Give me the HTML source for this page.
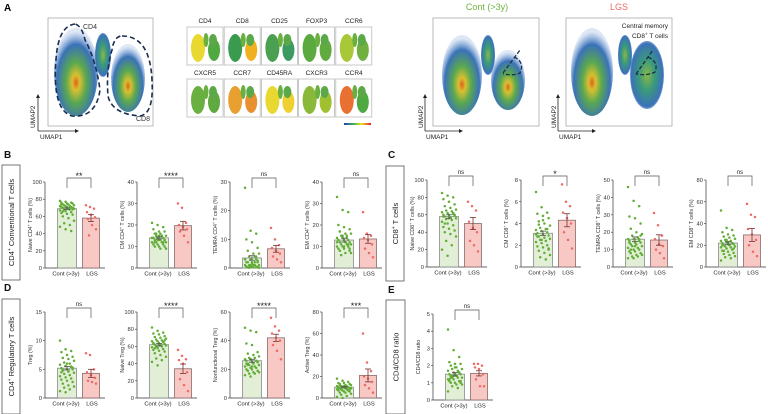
<!DOCTYPE html>
<html><head><meta charset="utf-8"><style>
html,body{margin:0;padding:0;background:#fff;}
svg{display:block;font-family:"Liberation Sans",Arial,sans-serif;}
</style></head><body>
<svg id="fig" width="768" height="414" viewBox="0 0 768 414" xmlns="http://www.w3.org/2000/svg">
<defs>
<radialGradient id="dens" cx="50%" cy="62%" r="58%">
<stop offset="0" stop-color="#e0601c"/><stop offset="0.15" stop-color="#d8c030"/><stop offset="0.4" stop-color="#5aa850"/><stop offset="0.75" stop-color="#3a72b8"/><stop offset="1" stop-color="#7aa0d8" stop-opacity="0.25"/>
</radialGradient>
<radialGradient id="dens2" cx="50%" cy="50%" r="58%">
<stop offset="0" stop-color="#8ab848"/><stop offset="0.4" stop-color="#3a9a7a"/><stop offset="0.8" stop-color="#3a72b8"/><stop offset="1" stop-color="#7aa0d8" stop-opacity="0.2"/>
</radialGradient>
<linearGradient id="cbar" x1="0" x2="1"><stop offset="0" stop-color="#2040c0"/><stop offset="0.35" stop-color="#40b050"/><stop offset="0.65" stop-color="#f0e020"/><stop offset="1" stop-color="#e02020"/></linearGradient>
</defs>
<g id="panelA">
<text x="4" y="11" font-size="10" font-weight="bold">A</text>
<rect x="48" y="18" width="105" height="108" fill="none" stroke="#aaa" stroke-width="0.8"/>
<g>
<ellipse cx="76" cy="72" rx="22" ry="44" fill="url(#dens)"/>
<ellipse cx="103" cy="55" rx="8" ry="22" fill="url(#dens2)"/>
<ellipse cx="128" cy="78" rx="17" ry="34" fill="url(#dens)"/>
</g>
<path d="M75 24 Q58 26 56 60 Q52 110 72 116 Q96 118 100 90 Q96 60 85 40 Q82 26 75 24Z" fill="none" stroke="#1c2e50" stroke-width="1.6" stroke-dasharray="5,3"/>
<path d="M122 36 Q150 36 152 80 Q154 114 140 116 Q112 114 108 96 Q106 70 112 50 Q114 36 122 36Z" fill="none" stroke="#1c2e50" stroke-width="1.6" stroke-dasharray="5,3"/>
<text x="83" y="29" font-size="7" fill="#333">CD4</text>
<text x="136" y="121" font-size="7" fill="#333">CD8</text>
<g stroke="#222" stroke-width="0.8"><line x1="38" y1="131" x2="38" y2="97"/><line x1="38" y1="131" x2="76" y2="131"/></g>
<path d="M38 94 l-2 4 h4z M79 131 l-4 -2 v4z" fill="#222"/>
<text x="40" y="139" font-size="6.5" fill="#222">UMAP1</text>
<text transform="translate(35,128) rotate(-90)" font-size="6.5" fill="#222">UMAP2</text>
<g id="mini"></g>
<rect x="344" y="123" width="27" height="2" fill="url(#cbar)"/>
<text x="487" y="10" font-size="9" fill="#6cb33f" text-anchor="middle">Cont (&gt;3y)</text>
<text x="619" y="10" font-size="9" fill="#ec6b64" text-anchor="middle">LGS</text>
<rect x="433" y="18" width="106" height="108" fill="none" stroke="#aaa" stroke-width="0.8"/>
<g>
<ellipse cx="462" cy="75" rx="20" ry="40" fill="url(#dens)"/>
<ellipse cx="488" cy="55" rx="7" ry="20" fill="url(#dens2)"/><ellipse cx="508" cy="80" rx="17" ry="30" fill="url(#dens)"/>
</g>
<path d="M503 73 L520 50 M514 57 Q525 62 520 73 Q514 76 503 74" fill="none" stroke="#1c2e50" stroke-width="1.3" stroke-dasharray="4,2"/>
<rect x="566" y="18" width="106" height="108" fill="none" stroke="#aaa" stroke-width="0.8"/>
<g>
<ellipse cx="592" cy="72" rx="21" ry="44" fill="url(#dens)"/><ellipse cx="625" cy="55" rx="7" ry="20" fill="url(#dens2)"/>
<ellipse cx="647" cy="75" rx="17" ry="34" fill="url(#dens2)"/>
</g>
<path d="M636 74 L653 50 M648 57 Q659 62 655 72 Q648 76 636 74" fill="none" stroke="#1c2e50" stroke-width="1.3" stroke-dasharray="4,2"/>
<text x="668" y="28" font-size="6.5" text-anchor="end" fill="#222">Central memory</text>
<text x="668" y="38" font-size="6.5" text-anchor="end" fill="#222">CD8<tspan font-size="4.5" dy="-2.5">+</tspan><tspan dy="2.5"> T cells</tspan></text>
<g stroke="#222" stroke-width="0.8"><line x1="425" y1="131" x2="425" y2="97"/><line x1="425" y1="131" x2="460" y2="131"/><line x1="558" y1="131" x2="558" y2="97"/><line x1="558" y1="131" x2="593" y2="131"/></g>
<path d="M425 94 l-2 4 h4z M463 131 l-4 -2 v4z M558 94 l-2 4 h4z M596 131 l-4 -2 v4z" fill="#222"/>
<text x="426" y="139" font-size="6.5" fill="#222">UMAP1</text><text transform="translate(423,128) rotate(-90)" font-size="6.5" fill="#222">UMAP2</text>
<text x="559" y="139" font-size="6.5" fill="#222">UMAP1</text><text transform="translate(556,128) rotate(-90)" font-size="6.5" fill="#222">UMAP2</text>
</g>
<g id="charts"></g>
</svg>
<script>
const NS="http://www.w3.org/2000/svg";
const markers=["CD4","CD8","CD25","FOXP3","CCR6","CXCR5","CCR7","CD45RA","CXCR3","CCR4"];
const markerLeft=["#e8d830","#3a9a50","#4aa050","#5aaa40","#a8c838","#6ab040","#e8a030","#e8d830","#8ab838","#e87030"];
const markerRight=["#50a840","#f0b020","#3a9a60","#60aa40","#70b040","#60a840","#e89030","#f0d030","#a0c030","#50a840"];

const b1Cont=[78,77,76,76,75,75,74,74,73,73,72,72,72,71,71,70,70,70,69,69,68,68,67,66,65,64,63,62,60,58,55,52,50,48,45,43,74,71,68,66];
const b1Lgs=[73,71,69,65,62,59,57,50,45,38];
const b1Bar=[69,58];const b1Sem=[1,4];const b1Ticks=[0,20,40,60,80,100];
const b2Cont=[21,20,19,18,17,17,16,16,15,15,15,14,14,14,14,13,13,13,13,12,12,12,12,11,11,11,10,10,10,9,9,16,15,14,13,12,14,15,13,12];
const b2Lgs=[30,28,21,20,19,18,17,15,12];
const b2Bar=[14,19.7];const b2Sem=[0.5,2];const b2Ticks=[0,10,20,30,40];
const b3Cont=[28,13,12,10,9,7,6,5,5,4,4,3,3,3,2,2,2,2,1,1,1,1,1,0.5,0.5,0.5,0.3,0.3,0.2,0.2,0.1,0.1,2,3,1,4,0.5,1.5,2.5,0.3];
const b3Lgs=[14,10,8,7,6,5,4,3,2];
const b3Bar=[3.5,6.7];const b3Sem=[0.8,1.2];const b3Ticks=[0,10,20,30];
const b4Cont=[33,27,26,20,19,18,17,16,16,15,15,14,14,13,13,13,12,12,12,11,11,11,10,10,10,9,9,8,8,7,7,6,14,12,15,11,13,10,9,17];
const b4Lgs=[26,16,15,14,13,11,9,7,5];
const b4Bar=[13,13.5];const b4Sem=[0.9,2];const b4Ticks=[0,10,20,30,40];

const c1Cont=[85,82,80,78,75,72,70,68,66,65,64,63,62,61,60,60,59,58,57,56,55,54,52,50,48,46,44,42,40,38,35,30,25,20,13,62,58,56,60,50];
const c1Lgs=[75,70,65,52,45,40,30,25,18];
const c1Bar=[58,50];const c1Sem=[2,7];const c1Ticks=[0,20,40,60,80,100];
const c2Cont=[6.9,5.5,5.0,4.9,4.7,4.5,4.2,4.0,3.8,3.6,3.5,3.4,3.3,3.2,3.1,3.0,2.9,2.8,2.7,2.6,2.5,2.4,2.3,2.2,2.0,1.9,1.8,1.7,1.5,1.3,1.1,0.9,0.7,3.0,2.5,3.5,2.8,4.3,1.6,3.9];
const c2Lgs=[7.6,6.0,5.6,5.0,4.5,4.0,3.2,2.5,1.7];
const c2Bar=[3.1,4.3];const c2Sem=[0.2,0.6];const c2Ticks=[0,2,4,6,8];
const c3Cont=[46,38,35,29,28,25,22,20,19,18,17,16,16,15,15,14,14,13,13,12,12,11,11,10,10,9,9,8,8,7,7,6,6,5,5,16,14,12,18,10];
const c3Lgs=[31,24,18,16,13,12,10,8,5];
const c3Bar=[16,15.5];const c3Sem=[1.3,3];const c3Ticks=[0,10,20,30,40,50];
const c4Cont=[52,36,34,32,30,29,28,27,26,25,24,24,23,22,22,21,21,20,20,19,19,18,18,17,16,15,14,13,12,11,10,9,8,6,25,22,20,23,17,15];
const c4Lgs=[58,48,46,35,30,25,20,14,10];
const c4Bar=[22,29.5];const c4Sem=[1.2,6];const c4Ticks=[0,20,40,60,80];

const d1Cont=[10,8.5,8.2,8,7.5,7.2,7,6.8,6.5,6.2,6,5.8,5.6,5.4,5.2,5,5,4.8,4.6,4.4,4.2,4,3.8,3.6,3.4,3.2,3,2.8,2.5,2.2,2,1.8,1.5,1.2,1,5.5,4.5,6,5.3,4.9];
const d1Lgs=[7.8,7.5,5,4.5,4,3.5,3,2.8,2.5];
const d1Bar=[5.2,4.3];const d1Sem=[0.3,0.7];const d1Ticks=[0,5,10,15];
const d2Cont=[82,78,76,75,74,72,71,70,69,68,67,66,66,65,64,64,63,62,62,61,60,60,59,58,57,56,55,54,52,50,48,46,44,42,38,65,63,61,67,58];
const d2Lgs=[56,49,45,44,40,30,22,15,8];
const d2Bar=[62,34];const d2Sem=[1.5,5.5];const d2Ticks=[0,20,40,60,80,100];
const d3Cont=[49,47,46,38,37,32,31,30,29,28,28,27,27,26,26,25,25,24,24,23,23,22,22,21,21,20,20,19,19,18,18,17,17,16,15,26,24,22,25,23];
const d3Lgs=[56,50,47,45,42,40,37,33,27];
const d3Bar=[26,42];const d3Sem=[1,2.5];const d3Ticks=[0,20,40,60];
const d4Cont=[18,16,15,14,14,13,13,12,12,11,11,11,10,10,10,10,9,9,9,9,8,8,8,7,7,7,6,6,5,5,4,3,2,1,0,10,9,11,8,12];
const d4Lgs=[60,33,25,20,18,15,12,9,5];
const d4Bar=[10,21];const d4Sem=[0.6,6];const d4Ticks=[0,20,40,60,80];

const eCont=[4.1,2.9,2.5,2.2,2.1,2.1,2.0,1.9,1.8,1.8,1.7,1.7,1.6,1.6,1.5,1.5,1.5,1.4,1.4,1.3,1.3,1.3,1.2,1.2,1.1,1.1,1.0,1.0,1.0,0.9,0.9,0.8,0.7,0.5,1.4,1.6,1.2,1.9,1.1,1.3];
const eLgs=[2.1,2.1,2.0,1.9,1.8,1.5,1.2,0.8,0.8];
const eBar=[1.5,1.55];const eSem=[0.1,0.15];const eTicks=[0,1,2,3,4,5];

const groupLabels=["Cont (>3y)","LGS"];

const svg=document.getElementById('charts');
function el(tag,attrs,parent,text){const e=document.createElementNS(NS,tag);for(const k in attrs)e.setAttribute(k,attrs[k]);if(text!==undefined)e.textContent=text;(parent||svg).appendChild(e);return e;}

const mini=document.getElementById('mini');
markers.forEach((m,i)=>{
  const x=187+(i%5)*37.2, y=i<5?27:79;
  const g=el('g',{},mini);
  
  
  el('text',{x:x+18,y:y-4,'font-size':6.5,'text-anchor':'middle',fill:'#222'},g,m);
  el('rect',{x:x,y:y,width:36,height:38,fill:'none',stroke:'#bbb','stroke-width':0.8},g);
  el('ellipse',{cx:x+11,cy:y+21,rx:7,ry:14,fill:markerLeft[i]},g);
  el('ellipse',{cx:x+19,cy:y+13,rx:2.5,ry:7,fill:'#6ab040'},g);
  el('ellipse',{cx:x+27,cy:y+23,rx:6,ry:11,fill:markerRight[i]},g);
  el('ellipse',{cx:x+26,cy:y+13,rx:4,ry:6,fill:'#5aa848'},g);
});

function chart(o){
  const g=el('g',{});
  
  
  const max=o.ticks[o.ticks.length-1];
  const ys=v=>o.zero-(v/max)*(o.zero-o.top);
  const ax=o.ax;
  el('line',{x1:ax,y1:o.top,x2:ax,y2:o.zero,stroke:'#333','stroke-width':0.7},g);
  el('line',{x1:ax,y1:o.zero,x2:ax+60,y2:o.zero,stroke:'#333','stroke-width':0.7},g);
  o.ticks.forEach(t=>{
    el('line',{x1:ax-2,y1:ys(t),x2:ax,y2:ys(t),stroke:'#333','stroke-width':0.6},g);
    const tl=el('text',{x:ax-3,y:ys(t)+2,'font-size':5.8,'text-anchor':'end',fill:'#333'},g,String(t));
    
    
  });
  const yt=el('text',{transform:`translate(${ax-13},${(o.top+o.zero)/2}) rotate(-90)`,'font-size':5.3,'text-anchor':'middle',fill:'#333'},g);
  yt.innerHTML=o.ylab;
  
  
  const centers=[ax+22,ax+46], widths=[19,17];
  const fills=['#e2efd6','#f8c8c4'], strokes=['#8a8a8a','#8a6a6a'], dots=['#62ad36','#ec6b64'];
  const data=[o.cont,o.lgs];
  [0,1].forEach(k=>{
    const b=el('rect',{x:centers[k]-widths[k]/2,y:ys(o.bar[k]),width:widths[k],height:o.zero-ys(o.bar[k]),fill:fills[k],stroke:strokes[k],'stroke-width':0.8},g);
    
    
    data[k].forEach((v,i)=>{
      const spread=k?5:7;
      const jx=(((i*37)%11)-5)/5*spread;
      const c=el('circle',{cx:centers[k]+jx,cy:ys(v),r:1.25,fill:dots[k]},g);
      
      
    });
    const sc=k?'#7a3030':'#555';
    el('line',{x1:centers[k],y1:ys(o.bar[k]+o.sem[k]),x2:centers[k],y2:ys(o.bar[k]-o.sem[k]),stroke:sc,'stroke-width':0.8},g);
    el('line',{x1:centers[k]-3,y1:ys(o.bar[k]+o.sem[k]),x2:centers[k]+3,y2:ys(o.bar[k]+o.sem[k]),stroke:sc,'stroke-width':0.8},g);
    el('line',{x1:centers[k]-3,y1:ys(o.bar[k]-o.sem[k]),x2:centers[k]+3,y2:ys(o.bar[k]-o.sem[k]),stroke:sc,'stroke-width':0.8},g);
    const xl=el('text',{x:k?centers[k]+1:centers[k]-1,y:o.zero+7.5,'font-size':5.8,'text-anchor':'middle',fill:'#222'},g,groupLabels[k]);
    
    
  });
  const by=o.top-4;
  el('path',{d:`M${centers[0]} ${by+10} V${by} H${centers[1]} V${by+10}`,fill:'none',stroke:'#555','stroke-width':0.7},g);
  const s=el('text',{x:(centers[0]+centers[1])/2,y:o.sig==='ns'?by-2:by+1,'font-size':o.sig==='ns'?6:9,'text-anchor':'middle',fill:'#222'},g,o.sig);
  
  
}
const BT=182,BZ=268,DT=312,DZ=398;
chart({name:'chart-naive-cd4',ax:45,top:BT,zero:BZ,ticks:b1Ticks,cont:b1Cont,lgs:b1Lgs,bar:b1Bar,sem:b1Sem,sig:'**',ylab:'Naive CD4<tspan font-size="3.5" dy="-2">+</tspan><tspan dy="2"> T cells (%)</tspan>'});
chart({name:'chart-cm-cd4',ax:137,top:BT,zero:BZ,ticks:b2Ticks,cont:b2Cont,lgs:b2Lgs,bar:b2Bar,sem:b2Sem,sig:'****',ylab:'CM CD4<tspan font-size="3.5" dy="-2">+</tspan><tspan dy="2"> T cells (%)</tspan>'});
chart({name:'chart-temra-cd4',ax:230,top:BT,zero:BZ,ticks:b3Ticks,cont:b3Cont,lgs:b3Lgs,bar:b3Bar,sem:b3Sem,sig:'ns',ylab:'TEMRA CD4<tspan font-size="3.5" dy="-2">+</tspan><tspan dy="2"> T cells (%)</tspan>'});
chart({name:'chart-em-cd4',ax:322,top:BT,zero:BZ,ticks:b4Ticks,cont:b4Cont,lgs:b4Lgs,bar:b4Bar,sem:b4Sem,sig:'ns',ylab:'EM CD4<tspan font-size="3.5" dy="-2">+</tspan><tspan dy="2"> T cells (%)</tspan>'});
chart({name:'chart-naive-cd8',ax:427,top:BT-2,zero:BZ-1,ticks:c1Ticks,cont:c1Cont,lgs:c1Lgs,bar:c1Bar,sem:c1Sem,sig:'ns',ylab:'Naive CD8<tspan font-size="3.5" dy="-2">+</tspan><tspan dy="2"> T cells (%)</tspan>'});
chart({name:'chart-cm-cd8',ax:521,top:BT-2,zero:BZ-1,ticks:c2Ticks,cont:c2Cont,lgs:c2Lgs,bar:c2Bar,sem:c2Sem,sig:'*',ylab:'CM CD8<tspan font-size="3.5" dy="-2">+</tspan><tspan dy="2"> T cells (%)</tspan>'});
chart({name:'chart-temra-cd8',ax:613,top:BT-2,zero:BZ-1,ticks:c3Ticks,cont:c3Cont,lgs:c3Lgs,bar:c3Bar,sem:c3Sem,sig:'ns',ylab:'TEMRA CD8<tspan font-size="3.5" dy="-2">+</tspan><tspan dy="2"> T cells (%)</tspan>'});
chart({name:'chart-em-cd8',ax:706,top:BT-2,zero:BZ-1,ticks:c4Ticks,cont:c4Cont,lgs:c4Lgs,bar:c4Bar,sem:c4Sem,sig:'ns',ylab:'EM CD8<tspan font-size="3.5" dy="-2">+</tspan><tspan dy="2"> T cells (%)</tspan>'});
chart({name:'chart-treg',ax:45,top:DT,zero:DZ,ticks:d1Ticks,cont:d1Cont,lgs:d1Lgs,bar:d1Bar,sem:d1Sem,sig:'ns',ylab:'Treg (%)'});
chart({name:'chart-naive-treg',ax:137,top:DT,zero:DZ,ticks:d2Ticks,cont:d2Cont,lgs:d2Lgs,bar:d2Bar,sem:d2Sem,sig:'****',ylab:'Naive Treg (%)'});
chart({name:'chart-nonfunctional-treg',ax:230,top:DT,zero:DZ,ticks:d3Ticks,cont:d3Cont,lgs:d3Lgs,bar:d3Bar,sem:d3Sem,sig:'****',ylab:'Nonfunctional Treg (%)'});
chart({name:'chart-active-treg',ax:322,top:DT,zero:DZ,ticks:d4Ticks,cont:d4Cont,lgs:d4Lgs,bar:d4Bar,sem:d4Sem,sig:'***',ylab:'Active Treg (%)'});
chart({name:'chart-cd4-cd8-ratio',ax:433,top:314,zero:400,ticks:eTicks,cont:eCont,lgs:eLgs,bar:eBar,sem:eSem,sig:'ns',ylab:'CD4/CD8 ratio'});

const panels=[['B',4,158,2,165,18,115,'CD4<tspan font-size="5" dy="-3">+</tspan><tspan dy="3"> Conventional T cells</tspan>'],
['C',388,158,386,166,18,115,'CD8<tspan font-size="5" dy="-3">+</tspan><tspan dy="3"> T cells</tspan>'],
['D',4,291,2,299,18,115,'CD4<tspan font-size="5" dy="-3">+</tspan><tspan dy="3"> Regulatory T cells</tspan>'],
['E',388,293,386,300,19,114,'CD4/CD8 ratio']];
panels.forEach(p=>{
  const t=el('text',{x:p[1],y:p[2],'font-size':10,'font-weight':'bold',fill:'#111'},svg,p[0]);
  
  
  const r=el('rect',{x:p[3],y:p[4],width:p[5],height:p[6],fill:'none',stroke:'#555','stroke-width':0.8});
  
  
  const s=el('text',{transform:`translate(${p[3]+p[5]/2+3},${p[4]+p[6]/2}) rotate(-90)`,'font-size':7.5,'text-anchor':'middle',fill:'#222'});
  s.innerHTML=p[7];
  
  
});
</script>
</body></html>
